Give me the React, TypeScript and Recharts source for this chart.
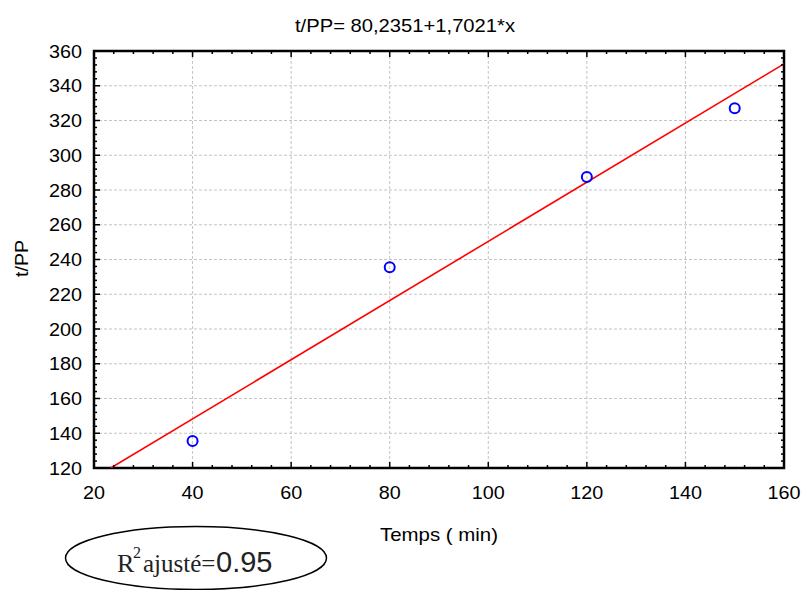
import React from "react";
import {
  ComposedChart,
  Scatter,
  Line,
  XAxis,
  YAxis,
  CartesianGrid,
  ReferenceArea,
  Customized,
} from "recharts";

// measured points
const timeMin = [40, 80, 120, 150];
const tPP = [135.5, 235.5, 287.5, 327];

// fitted line t/PP = 80,2351 + 1,7021*x, end points
const fitTime = [23.4, 160];
const fitPP = [120, 352.6];

const xMajor = [20, 40, 60, 80, 100, 120, 140, 160];
const yMajor = [120, 140, 160, 180, 200, 220, 240, 260, 280, 300, 320, 340, 360];

const title = "t/PP= 80,2351+1,7021*x";
const xLabel = "Temps ( min)";
const yLabel = "t/PP";

const FONT = '"Liberation Sans", Arial, sans-serif';
const SERIF = '"Liberation Serif", "Times New Roman", serif';

const W = 806;
const H = 590;
const PLOT_W = 690;
const PLOT_H = 417;

// 4 minor divisions between each pair of major ticks
function withMinors(major: number[]) {
  const out: number[] = [];
  for (let i = 0; i < major.length; i++) {
    out.push(major[i]);
    if (i < major.length - 1) {
      const step = (major[i + 1] - major[i]) / 5;
      for (let k = 1; k < 5; k++) out.push(major[i] + step * k);
    }
  }
  return out;
}

const xTicks = withMinors(xMajor);
const yTicks = withMinors(yMajor);

const points = timeMin.map((x, i) => ({ x, y: tPP[i] }));
const fit = fitTime.map((x, i) => ({ x, y: fitPP[i] }));

function XTick(props: any) {
  const { x, y, payload } = props;
  const major = xMajor.includes(payload.value);
  const len = major ? 6 : 3;
  const label = String(payload.value);
  return (
    <g>
      <line x1={x} y1={y} x2={x} y2={y - len} stroke="#000" strokeWidth={1.5} />
      <line x1={x} y1={y - PLOT_H} x2={x} y2={y - PLOT_H + len} stroke="#000" strokeWidth={1.5} />
      {major && (
        <text
          x={x}
          y={y + 31}
          textAnchor="middle"
          fontSize={19}
          fontFamily={FONT}
          fill="#000"
          textLength={label.length * 11}
          lengthAdjust="spacingAndGlyphs"
        >
          {label}
        </text>
      )}
    </g>
  );
}

function YTick(props: any) {
  const { x, y, payload } = props;
  const major = yMajor.includes(payload.value);
  const len = major ? 6 : 3;
  const label = String(payload.value);
  return (
    <g>
      <line x1={x} y1={y} x2={x + len} y2={y} stroke="#000" strokeWidth={1.5} />
      <line x1={x + PLOT_W} y1={y} x2={x + PLOT_W - len} y2={y} stroke="#000" strokeWidth={1.5} />
      {major && (
        <text
          x={x - 12}
          y={y + 6.5}
          textAnchor="end"
          fontSize={19}
          fontFamily={FONT}
          fill="#000"
          textLength={label.length * 11}
          lengthAdjust="spacingAndGlyphs"
        >
          {label}
        </text>
      )}
    </g>
  );
}

function Ring(props: any) {
  const { cx, cy } = props;
  return <circle cx={cx} cy={cy} r={5} fill="none" stroke="#0000ff" strokeWidth={2} />;
}

function Annotations() {
  return (
    <g>
      <text x={295} y={31.5} fontSize={19} fontFamily={FONT} fill="#000" textLength={220} lengthAdjust="spacingAndGlyphs">
        {title}
      </text>
      <text x={380} y={541} fontSize={19} fontFamily={FONT} fill="#000" textLength={118} lengthAdjust="spacingAndGlyphs">
        {xLabel}
      </text>
      <text
        x={0}
        y={0}
        transform="translate(28,258.5) rotate(-90)"
        textAnchor="middle"
        fontSize={19}
        fontFamily={FONT}
        fill="#000"
        textLength={37}
        lengthAdjust="spacingAndGlyphs"
      >
        {yLabel}
      </text>
      <ellipse cx={196} cy={558} rx={130.5} ry={31.5} fill="none" stroke="#000" strokeWidth={1.5} />
      <text y={572} fill="#222">
        <tspan x={117} fontFamily={SERIF} fontSize={26}>
          R
        </tspan>
        <tspan x={133} y={558} fontFamily={SERIF} fontSize={16}>
          2
        </tspan>
        <tspan x={143} y={572} fontFamily={SERIF} fontSize={25}>
          ajusté=
        </tspan>
        <tspan x={216} y={572} fontFamily={FONT} fontSize={29}>
          0.95
        </tspan>
      </text>
    </g>
  );
}

export default function App() {
  return (
    <div style={{ position: "absolute", left: 0, top: 0, width: W, height: H, background: "#fff" }}>
      <ComposedChart width={W} height={H} margin={{ top: 51, right: 22, bottom: 82, left: 34 }}>
        <CartesianGrid
          stroke="#c4c4c4"
          strokeDasharray="3 2"
          verticalValues={xMajor.slice(1, -1)}
          horizontalValues={yMajor.slice(1, -1)}
        />
        <XAxis
          type="number"
          dataKey="x"
          domain={[20, 160]}
          ticks={xTicks}
          interval={0}
          allowDataOverflow
          height={40}
          tickSize={0}
          tickMargin={0}
          tickLine={false}
          axisLine={false}
          tick={<XTick />}
        />
        <YAxis
          type="number"
          dataKey="y"
          domain={[120, 360]}
          ticks={yTicks}
          interval={0}
          allowDataOverflow
          width={60}
          tickSize={0}
          tickMargin={0}
          tickLine={false}
          axisLine={false}
          tick={<YTick />}
        />
        <ReferenceArea x1={20} x2={160} y1={120} y2={360} fill="none" stroke="#000" strokeWidth={2.5} ifOverflow="visible" />
        <Line
          data={fit}
          dataKey="y"
          type="linear"
          stroke="#ff0000"
          strokeWidth={1.6}
          dot={false}
          activeDot={false}
          isAnimationActive={false}
        />
        <Scatter data={points} dataKey="y" shape={<Ring />} isAnimationActive={false} />
        <Customized component={Annotations} />
      </ComposedChart>
    </div>
  );
}
